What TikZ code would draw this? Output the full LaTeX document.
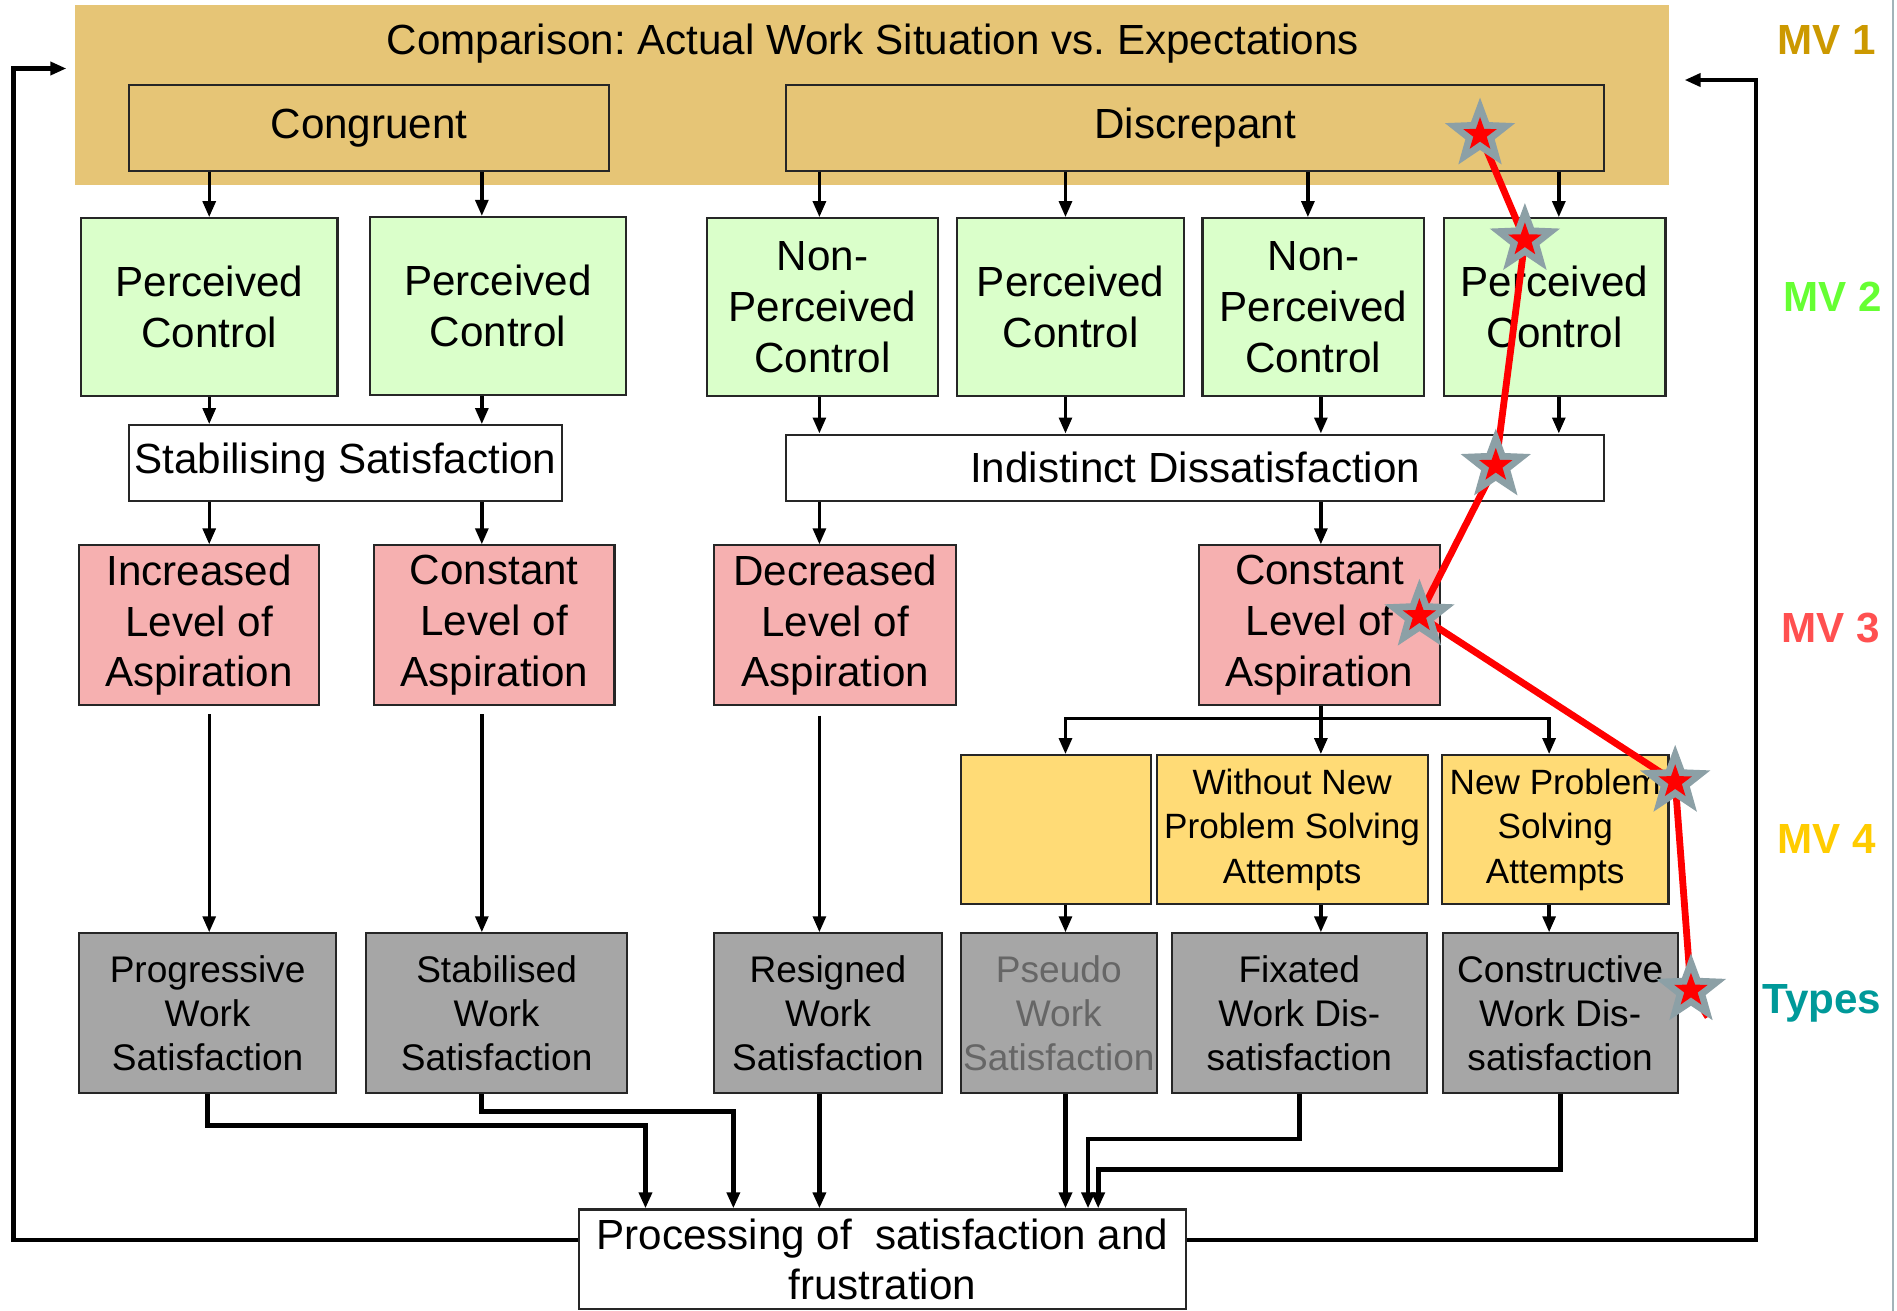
\documentclass[tikz,border=0pt]{standalone}
\usepackage{fontspec}
\setmainfont{Liberation Sans}
\usepackage{xcolor}
\usepackage{tikz}
\usetikzlibrary{shapes.geometric, arrows.meta, positioning}
\definecolor{mvtan}{RGB}{230,197,118}
\definecolor{mvgreen}{RGB}{218,255,202}
\definecolor{mvred}{RGB}{246,176,176}
\definecolor{mvyellow}{RGB}{255,219,118}
\definecolor{mvgray}{RGB}{166,166,166}
\definecolor{lblgold}{RGB}{204,153,0}
\definecolor{lblgreen}{RGB}{102,255,51}
\definecolor{lblred}{RGB}{255,80,80}
\definecolor{lblyellow}{RGB}{255,204,0}
\definecolor{lblteal}{RGB}{0,153,153}
\definecolor{stargray}{RGB}{140,160,166}
\frenchspacing

\begin{document}
\begin{tikzpicture}[x=0.02cm,y=-0.02cm,
  big/.style={font=\fontsize{19.8}{23.9}\selectfont},
  box/.style={draw=black!85,line width=1pt,inner sep=0pt,align=center,big},
  ctrl/.style={box,fill=mvgreen,minimum height=2.94cm},
  asp/.style={box,fill=mvred,minimum height=2.63cm},
  solve/.style={box,fill=mvyellow,minimum height=2.46cm,font=\fontsize{16.5}{21}\selectfont},
  wtype/.style={box,fill=mvgray,minimum height=2.64cm,font=\fontsize{17.4}{20.8}\selectfont},
  arr/.style={-{Triangle[length=7.5pt,width=6pt]},line width=1.6pt},
  flow/.style={arr,line width=2.2pt},
  mv/.style={font=\fontsize{19.8}{23.9}\selectfont\bfseries},
  gstar/.style={star,star points=5,star point ratio=2.4,minimum size=1.22cm,inner sep=0pt,fill=stargray},
  rstar/.style={star,star points=5,star point ratio=2.5,minimum size=0.58cm,inner sep=0pt,fill=red},
  redpath/.style={red,line width=3.2pt}]
\useasboundingbox (0,0) rectangle (1565,1081.5);
\draw[stargray!80,line width=1pt] (1562,0) -- (1562,1081.5);

% Comparison band
\node[fill=mvtan,minimum width=26.3cm,minimum height=2.98cm,inner sep=0pt] (cmp) at (719.5,78.5) {};
\node[big] (title) at (720,36) {Comparison: Actual Work Situation vs. Expectations};
\node[box,minimum width=7.92cm,minimum height=1.41cm] (cong) at (304.5,105.5) {Congruent};
\node[box,minimum width=13.5cm,minimum height=1.41cm] (disc) at (986,105.5) {Discrepant};

% Control
\node[ctrl,minimum width=4.23cm] (pc1) at (172.75,253.5) {Perceived\\Control};
\node[ctrl,minimum width=4.23cm] (pc2) at (410.75,252.5) {Perceived\\Control};
\node[ctrl,minimum width=3.82cm] (npc1) at (678.5,253.5) {Non-\\Perceived\\Control};
\node[ctrl,minimum width=3.75cm] (pc3) at (883.25,253.5) {Perceived\\Control};
\node[ctrl,minimum width=3.66cm] (npc2) at (1083.5,253.5) {Non-\\Perceived\\Control};
\node[ctrl,minimum width=3.66cm] (pc4) at (1282.5,253.5) {Perceived\\Control};

\node[box,fill=white,minimum width=7.14cm,minimum height=1.25cm] (stab) at (285,382) {Stabilising Satisfaction};
\node[box,fill=white,minimum width=13.5cm,minimum height=1.1cm] (indist) at (986,386) {Indistinct Dissatisfaction};

% Aspiration
\node[asp,minimum width=3.97cm] (inc) at (164.25,515.7) {Increased\\Level of\\Aspiration};
\node[asp,minimum width=3.97cm] (con1) at (407.75,515.7) {Constant\\Level of\\Aspiration};
\node[asp,minimum width=4cm] (dec) at (689,515.7) {Decreased\\Level of\\Aspiration};
\node[asp,minimum width=3.98cm] (con2) at (1088.5,515.7) {Constant\\Level of\\Aspiration};

% Problem solving
\node[solve,minimum width=3.14cm] (ylw) at (871,684.5) {};
\node[solve,minimum width=4.47cm] (wonp) at (1066,684.5) {Without New\\Problem Solving\\Attempts};
\node[solve,minimum width=3.74cm] (nps) at (1283,684.5) {New Problem\\Solving\\Attempts};

% Types
\node[wtype,minimum width=4.25cm] (prog) at (171.25,836) {Progressive\\Work\\Satisfaction};
\node[wtype,minimum width=4.31cm] (stbd) at (409.7,836) {Stabilised\\Work\\Satisfaction};
\node[wtype,minimum width=3.76cm] (res) at (683,836) {Resigned\\Work\\Satisfaction};
\node[wtype,minimum width=3.23cm,text=black!60] (pseudo) at (873.5,836) {Pseudo\\Work\\Satisfaction};
\node[wtype,minimum width=4.21cm] (fix) at (1071.9,836) {Fixated\\Work Dis-\\satisfaction};
\node[wtype,minimum width=3.88cm] (cons) at (1287.1,836) {Constructive\\Work Dis-\\satisfaction};

\node[box,fill=white,minimum width=10.02cm,minimum height=1.65cm] (proc) at (728,1039) {Processing of~ satisfaction and\\frustration};

% Labels
\node[mv,text=lblgold] (mv1) at (1507,33) {MV 1};
\node[mv,text=lblgreen] (mv2) at (1512,245) {MV 2};
\node[mv,text=lblred] (mv3) at (1510,518) {MV 3};
\node[mv,text=lblyellow] (mv4) at (1507,692) {MV 4};
\node[mv,text=lblteal] (types) at (1503,828) {Types};

% Columns
\coordinate (ca) at (172.6,0);
\coordinate (cb) at (397.5,0);
\coordinate (cc) at (676,0);
\coordinate (cd) at (879,0);
\coordinate (ce) at (1079,0);
\coordinate (cf) at (1089.7,0);
\coordinate (cg) at (1286,0);
\coordinate (ch) at (1278,0);

% Arrows
\draw[arr] (cong.south -| ca) -- (pc1.north -| ca);
\draw[arr] (cong.south -| cb) -- (pc2.north -| cb);
\draw[arr] (disc.south -| cc) -- (npc1.north -| cc);
\draw[arr] (disc.south -| cd) -- (pc3.north -| cd);
\draw[arr] (disc.south -| ce) -- (npc2.north -| ce);
\draw[arr] (disc.south -| cg) -- (pc4.north -| cg);
\draw[arr] (pc1.south -| ca) -- (stab.north -| ca);
\draw[arr] (pc2.south -| cb) -- (stab.north -| cb);
\draw[arr] (npc1.south -| cc) -- (indist.north -| cc);
\draw[arr] (pc3.south -| cd) -- (indist.north -| cd);
\draw[arr] (npc2.south -| cf) -- (indist.north -| cf);
\draw[arr] (pc4.south -| cg) -- (indist.north -| cg);
\draw[arr] (stab.south -| ca) -- (inc.north -| ca);
\draw[arr] (stab.south -| cb) -- (con1.north -| cb);
\draw[arr] (indist.south -| cc) -- (dec.north -| cc);
\draw[arr] (indist.south -| cf) -- (con2.north -| cf);
\draw[arr,shorten <=0.14cm] (inc.south -| ca) -- (prog.north -| ca);
\draw[arr,shorten <=0.14cm] (con1.south -| cb) -- (stbd.north -| cb);
\draw[arr,shorten <=0.16cm] (dec.south -| cc) -- (res.north -| cc);

\coordinate (fork) at (1089.7,592.5);
\draw[line width=1.6pt] (con2.south -| cf) -- (fork);
\draw[arr] (fork) -| (ylw.north -| cd);
\draw[arr] (fork) -- (wonp.north -| cf);
\draw[arr] (fork) -| (nps.north -| ch);
\draw[arr] (ylw.south -| cd) -- (pseudo.north -| cd);
\draw[arr] (wonp.south -| cf) -- (fix.north -| cf);
\draw[arr] (nps.south -| ch) -- (cons.north -| ch);

% Into processing
\coordinate (m1) at (532.5,928.5);
\coordinate (m2) at (605,917);
\coordinate (m3) at (897.6,939.6);
\coordinate (m4) at (906,965);
\draw[flow] (prog.south) |- (m1) -- (m1 |- proc.north);
\draw[flow] (stbd.south -| cb) |- (m2) -- (m2 |- proc.north);
\draw[flow] (res.south -| cc) -- (proc.north -| cc);
\draw[flow] (pseudo.south -| cd) -- (proc.north -| cd);
\draw[flow] (fix.south) |- (m3) -- (m3 |- proc.north);
\draw[flow] (cons.south) |- (m4) -- (m4 |- proc.north);

% Feedback
\coordinate (fl) at (11,1023);
\coordinate (fl2) at (11,56.5);
\coordinate (fr) at (1448.6,1023);
\coordinate (fr2) at (1448.6,66);
\draw[flow,shorten >=0.14cm] (proc.west |- fl) -- (fl) -- (fl2) -- (cmp.west |- fl2);
\draw[flow,shorten >=0.25cm] (proc.east |- fr) -- (fr) -- (fr2) -- (cmp.east |- fr2);

% Red path
\coordinate (p1) at (1221,111);
\coordinate (p2) at (1258,198);
\coordinate (p3) at (1234,384);
\coordinate (p4) at (1171,508);
\coordinate (p5) at (1382,645);
\coordinate (p6) at (1395,817);
\coordinate (pend) at (1409,839);
\draw[redpath] (p1) -- (p2) -- (p3) -- (p4) -- (p5) -- (p6) -- (pend);
\node[gstar] (g1) at (p1) {};
\node[rstar] (r1) at (p1) {};
\node[gstar] (g2) at (p2) {};
\node[rstar] (r2) at (p2) {};
\node[gstar] (g3) at (p3) {};
\node[rstar] (r3) at (p3) {};
\node[gstar] (g4) at (p4) {};
\node[rstar] (r4) at (p4) {};
\node[gstar] (g5) at (p5) {};
\node[rstar] (r5) at (p5) {};
\node[gstar] (g6) at (p6) {};
\node[rstar] (r6) at (p6) {};
\end{tikzpicture}
\end{document}
